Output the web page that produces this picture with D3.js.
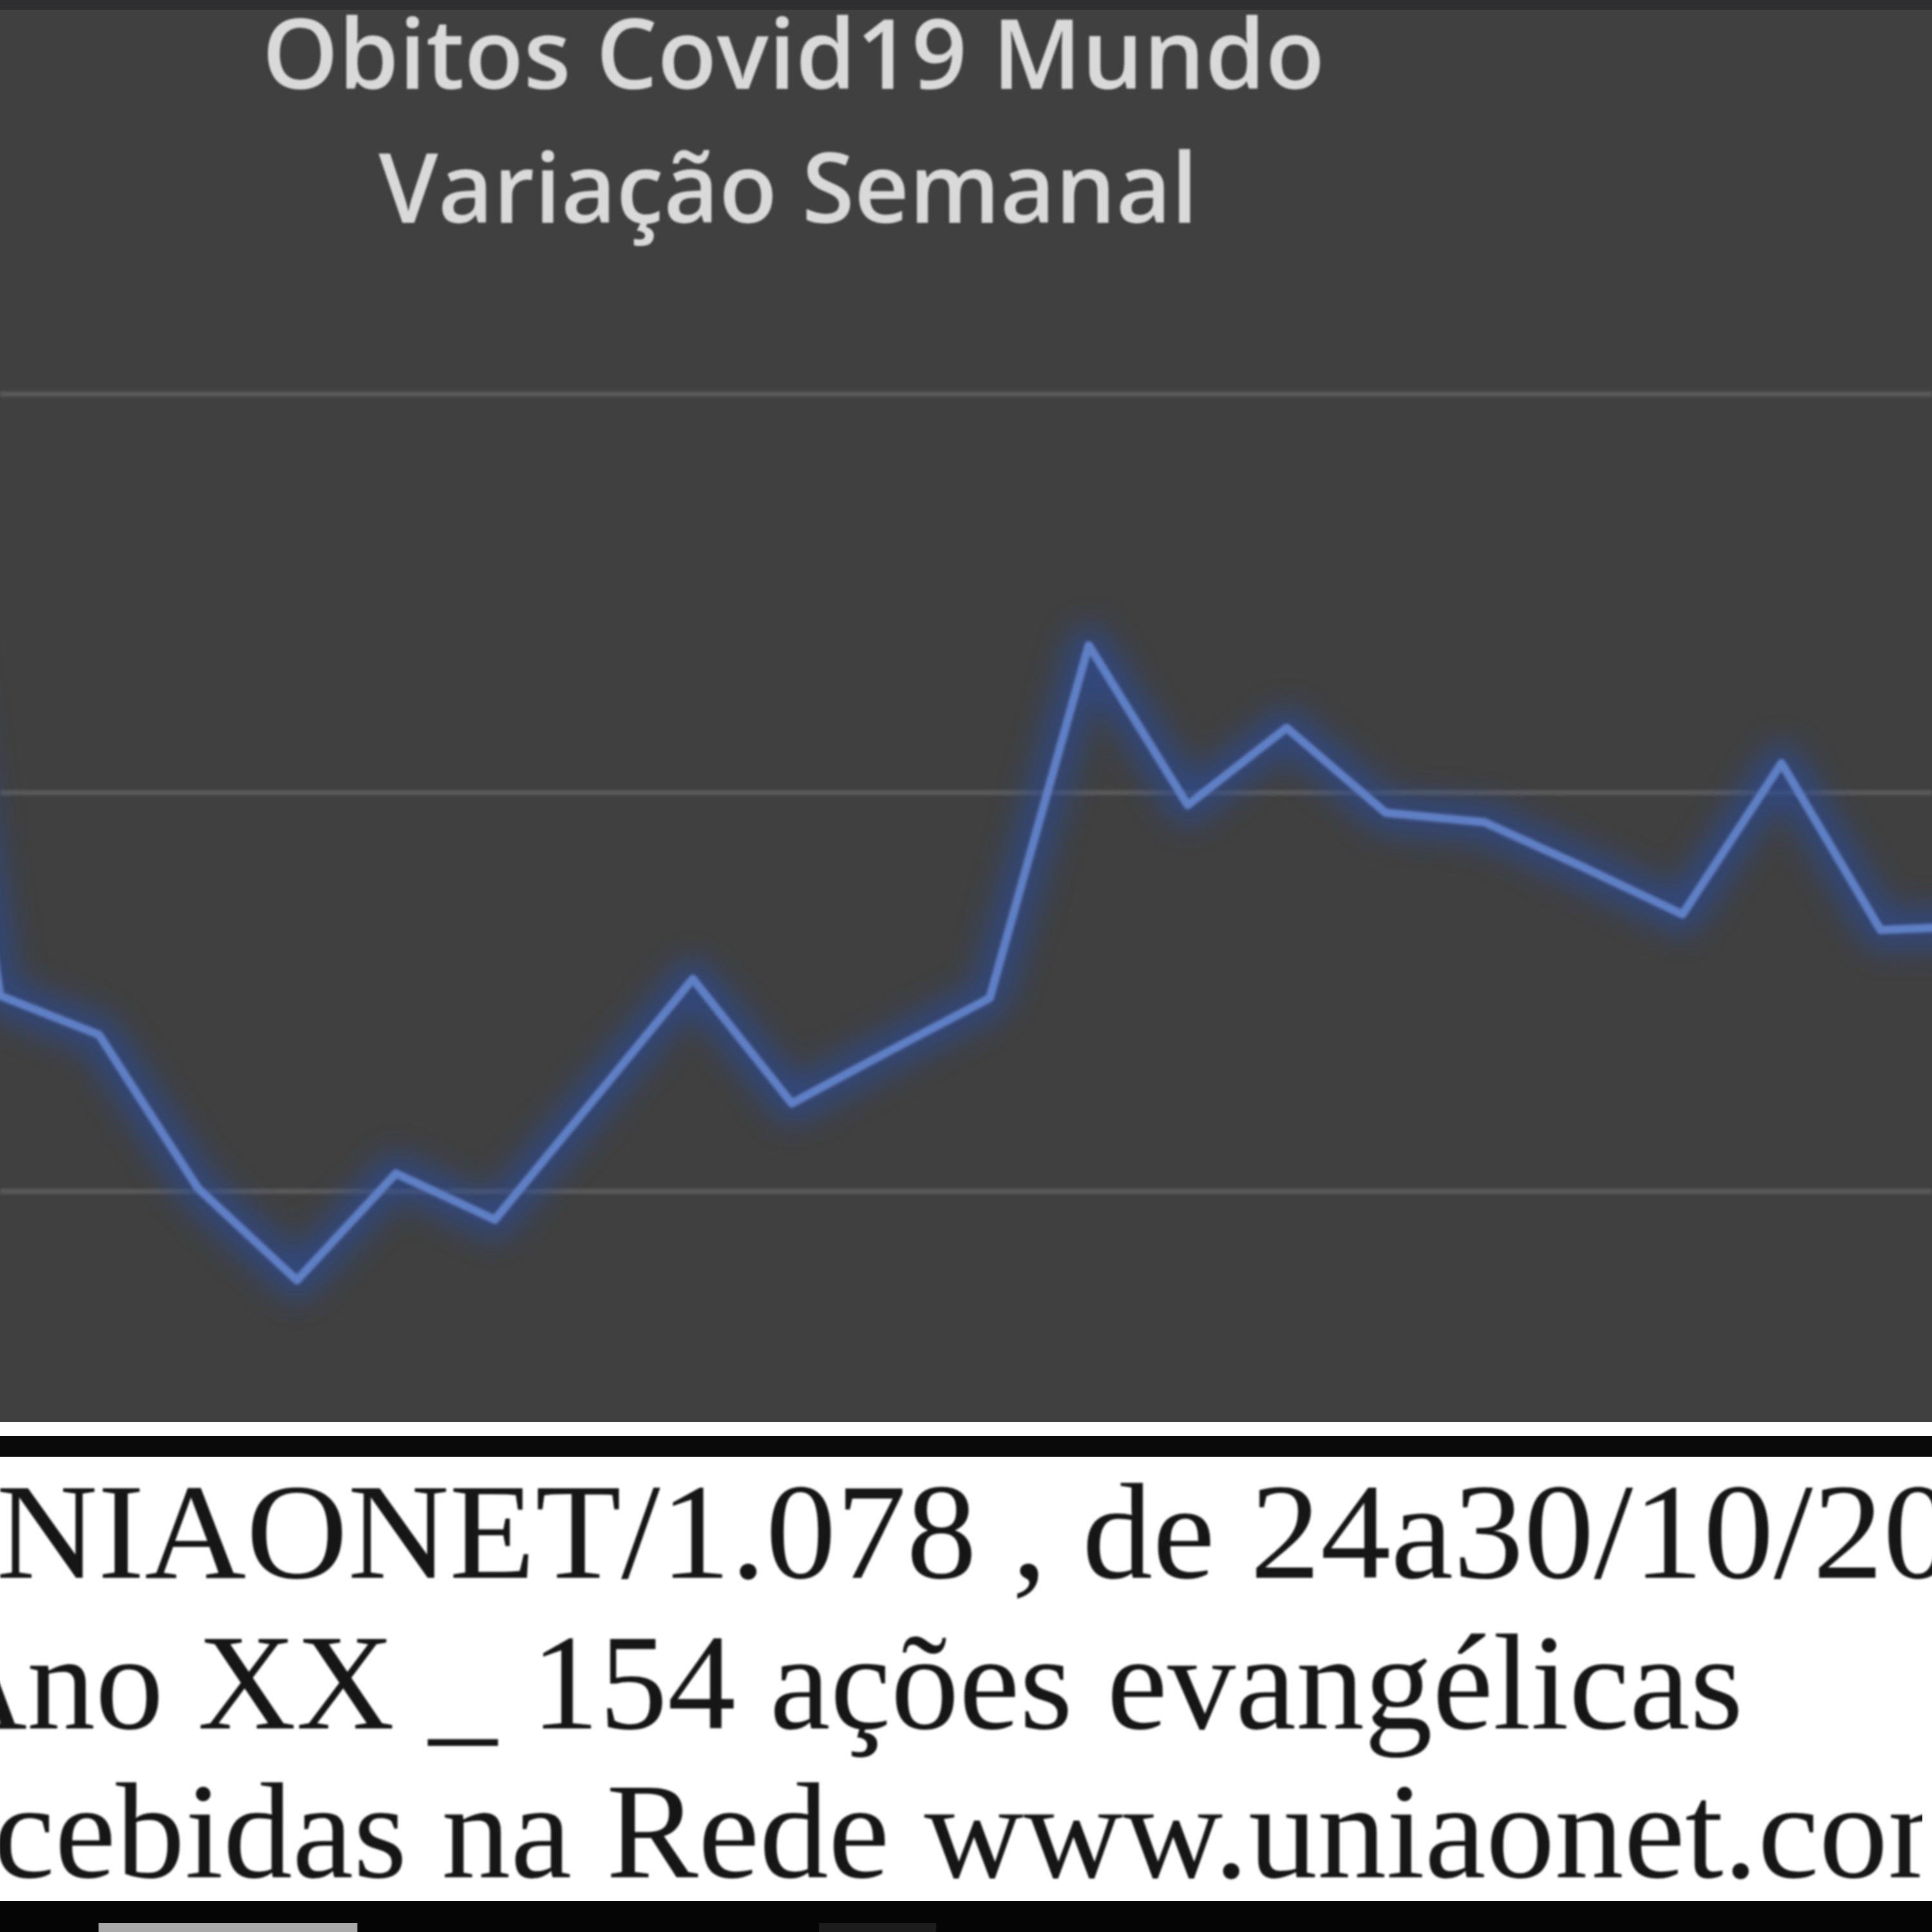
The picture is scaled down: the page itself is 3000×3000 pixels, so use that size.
<!DOCTYPE html>
<html>
<head>
<meta charset="utf-8">
<script src="https://cdn.jsdelivr.net/npm/d3@7"></script>
<style>
  html, body { margin: 0; padding: 0; background: #ffffff; }
  svg { display: block; }
</style>
</head>
<body>
<div id="chart"></div>
<script>
// weekly world covid deaths (arbitrary but consistent units)
var semanas = [-1, 0, 1, 2, 3, 4, 5, 6, 7, 8, 9, 10, 11, 12, 13, 14, 15, 16, 17, 18, 19, 20];
var obitos = [61800, 44910, 43930, 40080, 37770, 40450, 39290, 42310, 45330, 42210, 43540,
              44850, 53700, 49690, 51630, 49500, 49260, 48130, 46950, 50740, 46560, 46660];
var yTicks = [30000, 40000, 50000, 60000, 70000];

var titulo = ["Obitos Covid19 Mundo", "Variação Semanal"];
var rodape = [
    "UNIAONET/1.078 , de 24a30/10/2021",
    "Ano XX _ 154 ações evangélicas",
    "Recebidas na Rede www.uniaonet.com"
];

var W = 3000, H = 3000;
var plotTop = 15, plotBottom = 2208;

var svg = d3.select("#chart")
    .append("svg")
    .attr("width", W)
    .attr("height", H);

var defs = svg.append("defs");

defs.append("clipPath")
    .attr("id", "plotClip")
    .append("rect")
    .attr("x", 0)
    .attr("y", plotTop)
    .attr("width", W)
    .attr("height", plotBottom - plotTop);

// filters use user space so flat shapes (gridlines) still get them
function blurFilter(id, sd) {
    var f = defs.append("filter")
        .attr("id", id)
        .attr("filterUnits", "userSpaceOnUse")
        .attr("x", -200).attr("y", -200)
        .attr("width", W + 400).attr("height", H + 400);
    f.append("feGaussianBlur").attr("stdDeviation", sd);
}
blurFilter("glow", 24);
blurFilter("soft", 2);
blurFilter("softText", 1.4);

////////// background //////////

svg.append("rect")
    .attr("x", 0).attr("y", 0)
    .attr("width", W).attr("height", plotTop)
    .attr("fill", "#2e2e30");

svg.append("rect")
    .attr("x", 0).attr("y", plotTop)
    .attr("width", W).attr("height", plotBottom - plotTop)
    .attr("fill", "#404040");

////////// scales //////////

var x = d3.scaleLinear()
    .domain([0, 19])
    .range([0, 2920]);

var y = d3.scaleLinear()
    .domain([40000, 60000])
    .range([1850, 612]);

var plot = svg.append("g")
    .attr("clip-path", "url(#plotClip)");

// gridlines
plot.append("g")
    .attr("class", "grid")
    .selectAll("line")
    .data(yTicks)
    .enter()
    .append("line")
    .attr("x1", 0)
    .attr("x2", W)
    .attr("y1", function(d) { return y(d); })
    .attr("y2", function(d) { return y(d); })
    .attr("stroke", "#5a5a5a")
    .attr("stroke-width", 8)
    .attr("filter", "url(#soft)");

var data = semanas.map(function(s, i) {
    return { semana: s, valor: obitos[i] };
});

var linha = d3.line()
    .x(function(d) { return x(d.semana); })
    .y(function(d) { return y(d.valor); });

// glow behind the line
plot.append("path")
    .datum(data)
    .attr("d", linha)
    .attr("fill", "none")
    .attr("stroke", "#2c4c98")
    .attr("stroke-width", 60)
    .attr("stroke-linejoin", "round")
    .attr("opacity", 0.7)
    .attr("filter", "url(#glow)");

plot.append("path")
    .datum(data)
    .attr("d", linha)
    .attr("fill", "none")
    .attr("stroke", "#5f7fc5")
    .attr("stroke-width", 13)
    .attr("stroke-linejoin", "round")
    .attr("filter", "url(#soft)");

////////// title //////////

var tituloPos = [
    { x: 407, w: 1650, base: 138 },
    { x: 588, w: 1272, base: 346 }
];

svg.append("g")
    .selectAll("text")
    .data(titulo)
    .enter()
    .append("text")
    .attr("x", function(d, i) { return tituloPos[i].x; })
    .attr("y", function(d, i) { return tituloPos[i].base; })
    .attr("textLength", function(d, i) { return tituloPos[i].w; })
    .attr("lengthAdjust", "spacingAndGlyphs")
    .attr("font-family", "'Open Sans', 'DejaVu Sans', sans-serif")
    .attr("font-weight", 600)
    .attr("font-size", 150)
    .attr("fill", "#d9d9d9")
    .attr("filter", "url(#softText)")
    .text(function(d) { return d; });

////////// footer //////////

svg.append("rect")
    .attr("x", 0).attr("y", plotBottom)
    .attr("width", W).attr("height", 22)
    .attr("fill", "#ffffff");

svg.append("rect")
    .attr("x", 0).attr("y", plotBottom + 22)
    .attr("width", W).attr("height", 32)
    .attr("fill", "#0a0a0a");

svg.append("rect")
    .attr("x", 0).attr("y", 2262)
    .attr("width", W).attr("height", 690)
    .attr("fill", "#ffffff");

svg.append("rect")
    .attr("x", 0).attr("y", 2952)
    .attr("width", W).attr("height", 48)
    .attr("fill", "#050505");

svg.append("rect")
    .attr("x", 153).attr("y", 2986)
    .attr("width", 402).attr("height", 14)
    .attr("fill", "#a9a9a9");

svg.append("rect")
    .attr("x", 1272).attr("y", 2986)
    .attr("width", 182).attr("height", 14)
    .attr("fill", "#1c1c1c");

// each footer line is stretched so two of its letters land where the picture has them
var rodapePos = [
    { base: 2450, a: 1, ax: -6, b: 29, bx: 2815, bEnd: false },
    { base: 2684, a: 1, ax: 42, b: 29, bx: 2707, bEnd: true },
    { base: 2915, a: 2, ax: -10, b: 18, bx: 1435, bEnd: false }
];

var footer = svg.append("g");

footer.selectAll("text")
    .data(rodape)
    .enter()
    .append("text")
    .attr("x", 0)
    .attr("y", function(d, i) { return rodapePos[i].base; })
    .attr("font-family", "'Liberation Serif', 'DejaVu Serif', serif")
    .attr("font-size", 212)
    .style("font-variant-numeric", "oldstyle-nums")
    .attr("fill", "#121212")
    .attr("filter", "url(#softText)")
    .text(function(d) { return d; })
    .each(function(d, i) {
        var p = rodapePos[i];
        var xa = this.getStartPositionOfChar(p.a).x;
        var xb = p.bEnd ? this.getEndPositionOfChar(p.b).x : this.getStartPositionOfChar(p.b).x;
        var sx = (p.bx - p.ax) / (xb - xa);
        var tx = p.ax - sx * xa;
        d3.select(this).attr("transform", "translate(" + tx + ",0) scale(" + sx + ",1)");
    });
</script>
</body>
</html>
